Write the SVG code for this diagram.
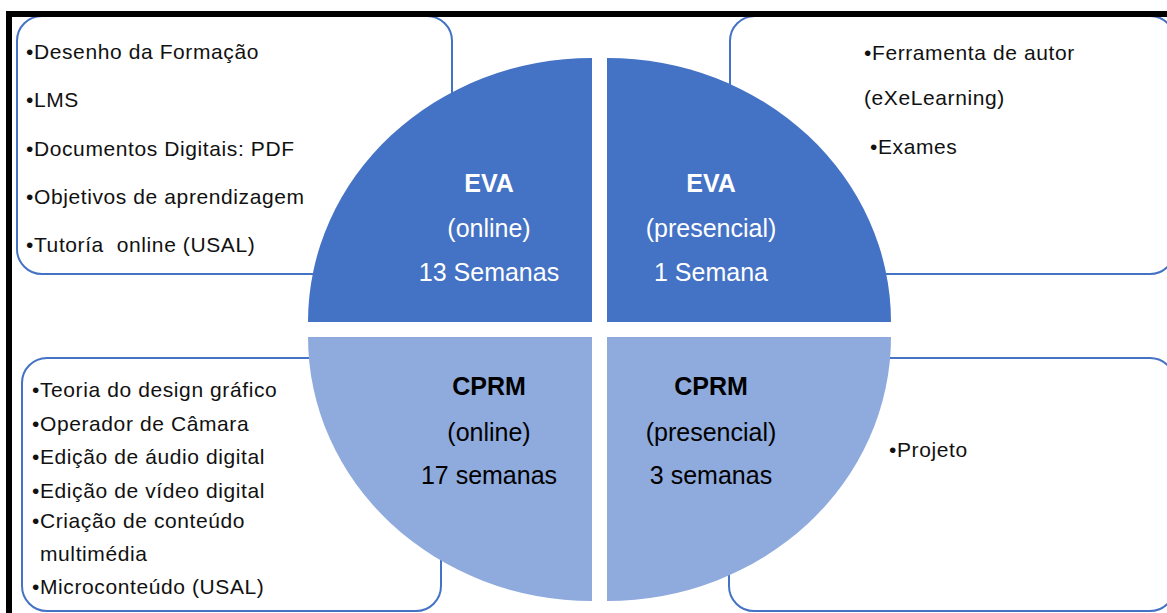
<svg xmlns="http://www.w3.org/2000/svg" width="1167" height="613" viewBox="0 0 1167 613">
<style>
.box{fill:#fff;stroke:#4472C4;stroke-width:2}
.t{font-family:"Liberation Sans",Arial,sans-serif;font-size:21px;fill:#111;letter-spacing:0.6px;white-space:pre}
.c{font-family:"Liberation Sans",Arial,sans-serif;font-size:25px;text-anchor:middle}
.w{fill:#fff}
.k{fill:#000}
.b{font-weight:bold}
.dark{fill:#4472C4}
.light{fill:#8FAADC}
</style>
<rect width="1167" height="613" fill="#fff"/>
<g id="box-tl"><rect class="box" x="17" y="16" width="435" height="258" rx="25"/></g>
<g id="box-tr"><rect class="box" x="730" y="16" width="445" height="258" rx="25"/></g>
<g id="box-bl"><rect class="box" x="22" y="358" width="419" height="253" rx="25"/></g>
<g id="box-br"><rect class="box" x="729" y="358" width="446" height="253" rx="25"/></g>
<g id="frame">
<rect x="6" y="11" width="1161" height="6" fill="#000"/>
<rect x="6" y="11" width="6" height="602" fill="#000"/>
</g>
<g id="q-tl"><path class="dark" d="M592,322 L308,322 A284,264 0 0 1 592,58 Z"/>
<text class="c w b" x="489" y="192">EVA</text>
<text class="c w" x="489" y="237">(online)</text>
<text class="c w" x="489" y="281">13 Semanas</text></g>
<g id="q-tr"><path class="dark" d="M607,322 L607,58 A284,264 0 0 1 891,322 Z"/>
<text class="c w b" x="711" y="192">EVA</text>
<text class="c w" x="711" y="237">(presencial)</text>
<text class="c w" x="711" y="281">1 Semana</text></g>
<g id="q-bl"><path class="light" d="M592,337 L592,601 A284,264 0 0 1 308,337 Z"/>
<text class="c k b" x="489" y="395">CPRM</text>
<text class="c k" x="489" y="441">(online)</text>
<text class="c k" x="489" y="484">17 semanas</text></g>
<g id="q-br"><path class="light" d="M607,337 L891,337 A284,264 0 0 1 607,601 Z"/>
<text class="c k b" x="711" y="395">CPRM</text>
<text class="c k" x="711" y="441">(presencial)</text>
<text class="c k" x="711" y="484">3 semanas</text></g>
<g id="text-tl">
<text class="t" x="26" y="59">•Desenho da Formação</text>
<text class="t" x="26" y="107">•LMS</text>
<text class="t" x="26" y="156">•Documentos Digitais: PDF</text>
<text class="t" x="26" y="204">•Objetivos de aprendizagem</text>
<text class="t" x="26" y="252" xml:space="preserve">•Tutoría  online (USAL)</text>
</g>
<g id="text-tr">
<text class="t" x="864" y="60">•Ferramenta de autor</text>
<text class="t" x="864" y="105">(eXeLearning)</text>
<text class="t" x="870" y="154">•Exames</text>
</g>
<g id="text-bl">
<text class="t" x="32" y="397">•Teoria do design gráfico</text>
<text class="t" x="32" y="431">•Operador de Câmara</text>
<text class="t" x="32" y="464">•Edição de áudio digital</text>
<text class="t" x="32" y="498">•Edição de vídeo digital</text>
<text class="t" x="32" y="528">•Criação de conteúdo</text>
<text class="t" x="40" y="561">multimédia</text>
<text class="t" x="32" y="594">•Microconteúdo (USAL)</text>
</g>
<g id="text-br">
<text class="t" x="889" y="457">•Projeto</text>
</g>
</svg>
